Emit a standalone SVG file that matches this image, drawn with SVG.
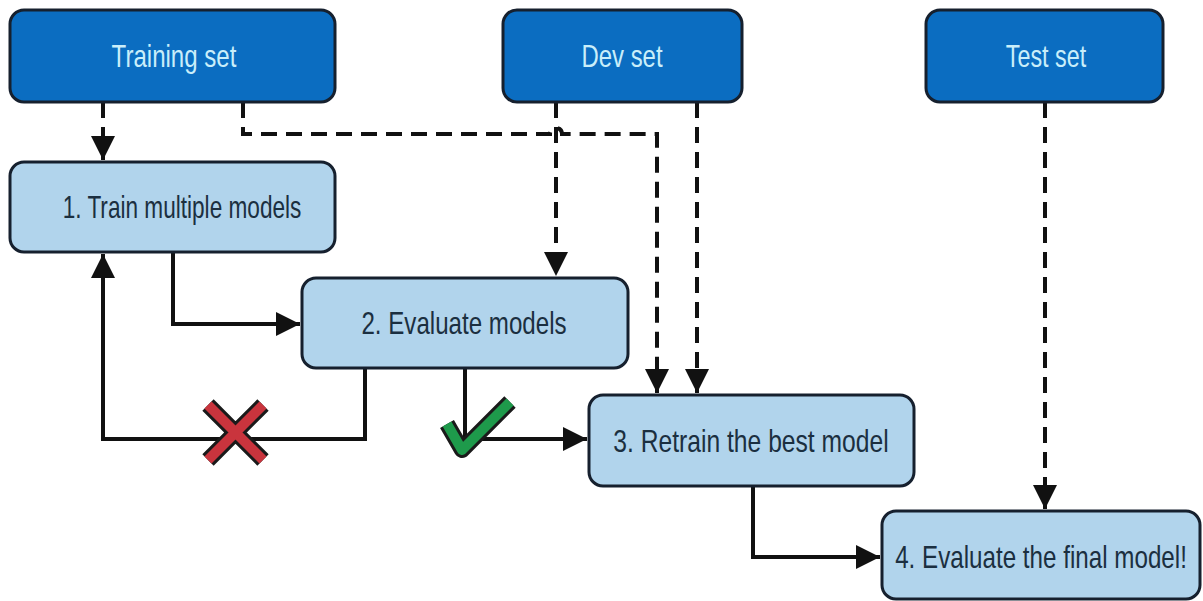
<svg xmlns="http://www.w3.org/2000/svg" width="1203" height="601" viewBox="0 0 1203 601">
<defs>
<style>
.src rect{fill:#0b6dc1;stroke:#16202e;stroke-width:3}
.src text{fill:#c9eefa;font-family:"Liberation Sans",Arial,sans-serif;font-size:31px;text-anchor:middle}
.step rect{fill:#b1d4ec;stroke:#16202e;stroke-width:3}
.step text{fill:#1b2f40;font-family:"Liberation Sans",Arial,sans-serif;font-size:31px;text-anchor:middle}
.dash{fill:none;stroke:#111;stroke-width:4;stroke-dasharray:16 9}
.solid{fill:none;stroke:#111;stroke-width:4}
</style>
<marker id="arr" markerUnits="userSpaceOnUse" markerWidth="24" markerHeight="24" viewBox="0 0 20 20" refX="20" refY="10" orient="auto">
<path d="M0,0 L20,10 L0,20 Z" fill="#111"/>
</marker>
</defs>
<rect width="1203" height="601" fill="#ffffff"/>
<g id="connectors">
<path class="dash" d="M103,102 V160" marker-end="url(#arr)"/>
<path class="dash" d="M243,102 V134 H550 A6,6 0 0 1 562,134 H657 V393" marker-end="url(#arr)"/>
<path class="dash" d="M556,102 V276" marker-end="url(#arr)"/>
<path class="dash" d="M697,102 V393" marker-end="url(#arr)"/>
<path class="dash" d="M1045,102 V509" marker-end="url(#arr)"/>
<path class="solid" d="M173,252 V324 H300" marker-end="url(#arr)"/>
<path class="solid" d="M365,368 V439 H103 V254" marker-end="url(#arr)"/>
<path class="solid" d="M465,368 V439 H587" marker-end="url(#arr)"/>
<path class="solid" d="M753,486 V557 H880" marker-end="url(#arr)"/>
</g>
<g id="cross">
<path d="M208,405 L263,460 M263,405 L208,460" stroke="#1a1a1a" stroke-width="16" fill="none"/>
<path d="M208,405 L263,460 M263,405 L208,460" stroke="#c9343d" stroke-width="10" fill="none"/>
</g>
<g id="check">
<path d="M447,424 L462,450 L510,402" stroke="#1a1a1a" stroke-width="16" fill="none" stroke-linejoin="round"/>
<path d="M447,424 L462,450 L510,402" stroke="#1e9a4b" stroke-width="10" fill="none" stroke-linejoin="round"/>
</g>
<g id="training-set" class="src">
<rect x="10" y="10" width="325" height="92" rx="14"/>
<text transform="translate(174,67) scale(0.78,1)" textLength="160" lengthAdjust="spacingAndGlyphs">Training set</text>
</g>
<g id="dev-set" class="src">
<rect x="503" y="10" width="239" height="92" rx="14"/>
<text transform="translate(622,67) scale(0.78,1)" textLength="104" lengthAdjust="spacingAndGlyphs">Dev set</text>
</g>
<g id="test-set" class="src">
<rect x="926" y="10" width="237" height="92" rx="14"/>
<text transform="translate(1046,67) scale(0.78,1)" textLength="103" lengthAdjust="spacingAndGlyphs">Test set</text>
</g>
<g id="step1" class="step">
<rect x="10" y="162" width="325" height="90" rx="14"/>
<text transform="translate(182,218) scale(0.78,1)" textLength="306" lengthAdjust="spacingAndGlyphs">1. Train multiple models</text>
</g>
<g id="step2" class="step">
<rect x="302" y="278" width="326" height="90" rx="14"/>
<text transform="translate(464,334) scale(0.78,1)" textLength="263" lengthAdjust="spacingAndGlyphs">2. Evaluate models</text>
</g>
<g id="step3" class="step">
<rect x="589" y="395" width="325" height="91" rx="14"/>
<text transform="translate(751,452) scale(0.78,1)" textLength="353" lengthAdjust="spacingAndGlyphs">3. Retrain the best model</text>
</g>
<g id="step4" class="step">
<rect x="882" y="511" width="318" height="88" rx="14"/>
<text transform="translate(1041,568) scale(0.78,1)" textLength="374" lengthAdjust="spacingAndGlyphs">4. Evaluate the final model!</text>
</g>
</svg>
